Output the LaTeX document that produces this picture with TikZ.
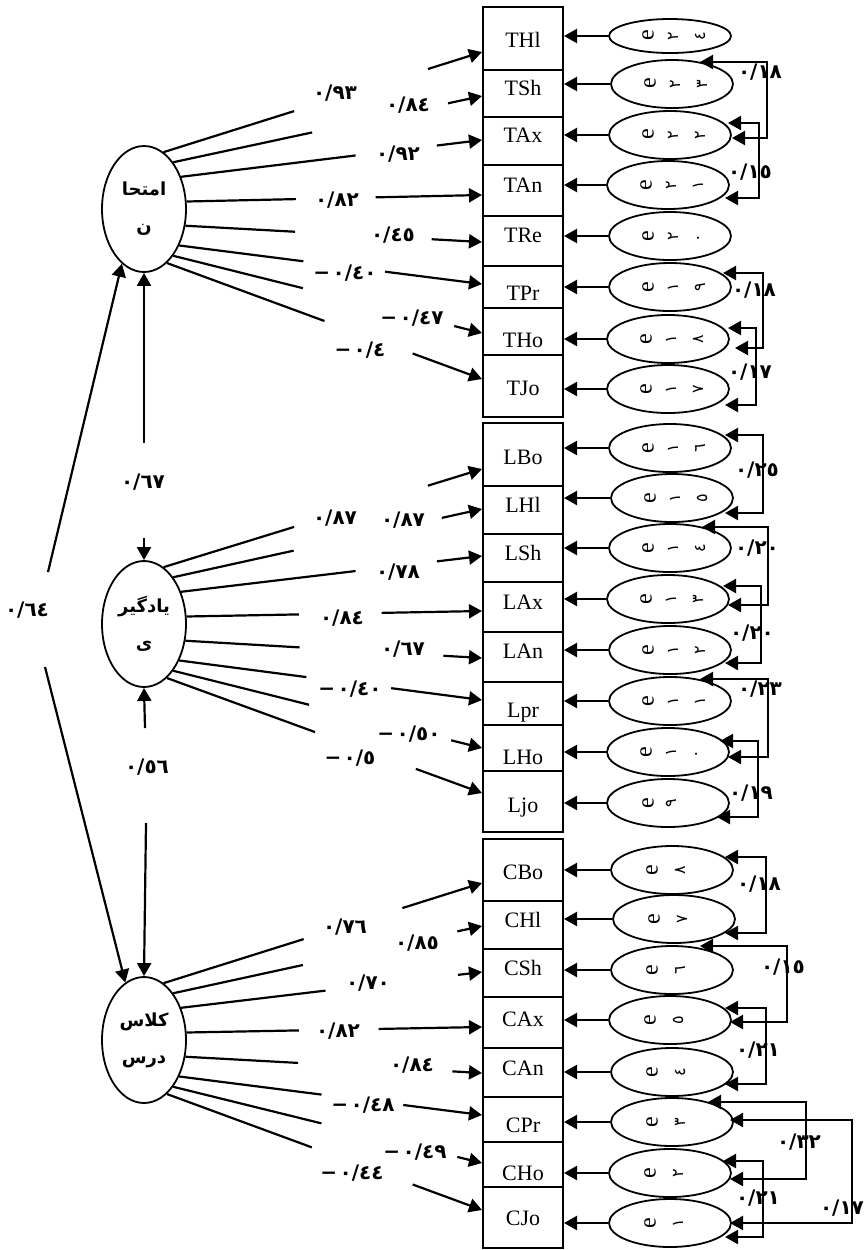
\documentclass[tikz,border=0pt]{standalone}
\usepackage{fontspec}
\usepackage{graphicx}
\setmainfont{Liberation Serif}
\newfontfamily\ar[Script=Arabic]{DejaVu Sans}
\TeXXeTstate=1
\usetikzlibrary{shapes.geometric,arrows.meta}

\newcommand\obsbox[5]{%
  \pgfmathsetmacro\bxh{(#3-#2)*0.5}%
  \pgfmathsetmacro\bxc{(#2+#3)/2}%
  \pgfmathsetmacro\bxo{(\bxc-#4)*0.5}%
  \node[obs, minimum height=\bxh pt] (#1) at (523,\bxc) {\raisebox{\bxo pt}[7.3pt][0pt]{#5}};}
\newcommand\erE{\makebox[0pt]{\rotatebox[origin=c]{90}{\fontsize{12}{12}\selectfont e}}}
\newcommand\erD[1]{\makebox[0pt]{\rotatebox[origin=c]{90}{\ar\fontsize{8}{8}\selectfont #1}}}
\newcommand\gat[2]{\rlap{\hspace{#1}#2}}
\newcommand\eglyphs[1]{\raisebox{-2.6pt}{\makebox[32pt][l]{#1}}}
\newcommand\ethree[2]{\eglyphs{\gat{5pt}{\erE}\gat{17.5pt}{\erD{#1}}\gat{31pt}{\erD{#2}}}}
\newcommand\etwoL[1]{\eglyphs{\gat{6pt}{\erE}\gat{17.5pt}{\erD{#1}}}}
\newcommand\etwoC[1]{\eglyphs{\gat{6pt}{\erE}\gat{20pt}{\erD{#1}}}}
\newcommand\ngv[1]{\mbox{−}\hspace{1.2pt}\mbox{#1}}
\newcommand\fan[6]{%
  \path (#1.#2) -- (#3.west |- 0,#4) coordinate[pos=#5] (ga) coordinate[pos=#6] (gb);
  \draw[ln] (#1.#2) -- (ga);
  \draw[arr] (gb) -- (#3.west |- 0,#4);}
\newcommand\covar[6]{%
  \coordinate (#1a) at (#2,#3); \coordinate (#1b) at (#5,#6);
  \draw[cov] (#1a) -| (#4,#6) -- (#1b);}

\begin{document}
\begin{tikzpicture}[x=0.5pt,y=-0.5pt,
 obs/.style={draw, line width=1pt, minimum width=40pt, inner sep=0pt, font=\fontsize{11}{13}\selectfont},
 err/.style={draw, ellipse, line width=0.9pt, minimum width=61pt, minimum height=24pt, inner sep=0pt, text height=0pt, text depth=0pt},
 lat/.style={draw, ellipse, line width=0.9pt, minimum width=42pt, minimum height=63pt, inner sep=0pt, align=center, font=\ar\bfseries\fontsize{9}{18.5}\selectfont},
 lbl/.style={inner sep=0pt, font=\ar\bfseries\fontsize{10}{12}\selectfont},
 ln/.style={line width=1.1pt},
 arr/.style={line width=1.1pt, -{Triangle[length=6.5pt,width=7pt]}},
 cov/.style={line width=1.1pt, {Triangle[length=6.5pt,width=7pt]}-{Triangle[length=6.5pt,width=7pt]}}]
\useasboundingbox (0,0) rectangle (864,1250);

% observed boxes
\obsbox{THl}{7}{70}{40}{THl}
\obsbox{TSh}{70}{117}{88}{TSh}
\obsbox{TAx}{117}{165}{135}{TAx}
\obsbox{TAn}{165}{216}{185}{TAn}
\obsbox{TRe}{216}{266}{235}{TRe}
\obsbox{TPr}{266}{308}{293}{TPr}
\obsbox{THo}{308}{355}{340}{THo}
\obsbox{TJo}{355}{417}{388}{TJo}
\obsbox{LBo}{423}{486}{457}{LBo}
\obsbox{LHl}{486}{534}{505}{LHl}
\obsbox{LSh}{534}{582}{553}{LSh}
\obsbox{LAx}{582}{632}{602}{LAx}
\obsbox{LAn}{632}{682}{651}{LAn}
\obsbox{Lpr}{682}{725}{710}{Lpr}
\obsbox{LHo}{725}{771}{757}{LHo}
\obsbox{Ljo}{771}{832}{805}{Ljo}
\obsbox{CBo}{839}{901}{872}{CBo}
\obsbox{CHl}{901}{949}{920}{CHl}
\obsbox{CSh}{949}{997}{968}{CSh}
\obsbox{CAx}{997}{1048}{1019}{CAx}
\obsbox{CAn}{1048}{1097}{1068}{CAn}
\obsbox{CPr}{1097}{1142}{1125}{CPr}
\obsbox{CHo}{1142}{1187}{1173}{CHo}
\obsbox{CJo}{1187}{1248}{1218}{CJo}

% error ellipses
\node[err, minimum height=17pt] (e24) at (670,36) {\ethree{٢}{٤}};
\node[err] (e23) at (672,84) {\ethree{٢}{٣}};
\node[err] (e22) at (670,135) {\ethree{٢}{٢}};
\node[err] (e21) at (668,185) {\ethree{٢}{١}};
\node[err] (e20) at (670,236) {\ethree{٢}{٠}};
\node[err] (e19) at (670,287) {\ethree{١}{٩}};
\node[err] (e18) at (668,339) {\ethree{١}{٨}};
\node[err] (e17) at (668,389) {\ethree{١}{٧}};
\node[err] (e16) at (670,448) {\ethree{١}{٦}};
\node[err] (e15) at (672,498) {\ethree{١}{٥}};
\node[err] (e14) at (670,548) {\ethree{١}{٤}};
\node[err] (e13) at (668,599) {\ethree{١}{٣}};
\node[err] (e12) at (670,650) {\ethree{١}{٢}};
\node[err] (e11) at (670,701) {\ethree{١}{١}};
\node[err] (e10) at (668,752) {\ethree{١}{٠}};
\node[err] (e9) at (668,803) {\etwoL{٩}};
\node[err] (e8) at (672,870) {\etwoC{٨}};
\node[err] (e7) at (674,919) {\etwoC{٧}};
\node[err] (e6) at (672,970) {\etwoC{٦}};
\node[err] (e5) at (670,1020) {\etwoC{٥}};
\node[err] (e4) at (672,1072) {\etwoC{٤}};
\node[err] (e3) at (672,1122) {\etwoC{٣}};
\node[err] (e2) at (670,1173) {\etwoC{٢}};
\node[err] (e1) at (670,1223) {\etwoC{١}};

% error -> indicator arrows
\foreach \e/\b in {e24/THl,e23/TSh,e22/TAx,e21/TAn,e20/TRe,e19/TPr,e18/THo,e17/TJo,
                   e16/LBo,e15/LHl,e14/LSh,e13/LAx,e12/LAn,e11/Lpr,e10/LHo,e9/Ljo,
                   e8/CBo,e7/CHl,e6/CSh,e5/CAx,e4/CAn,e3/CPr,e2/CHo,e1/CJo}
  \draw[arr] (\e.west) -- (\b.east |- \e.west);

% latent variables
\node[lat] (L1) at (144,209) {\beginR امتحا\endR\\\beginR ن\endR};
\node[lat] (L2) at (144,624) {\beginR یادگیر\endR\\\beginR ی\endR};
\node[lat] (L3) at (144,1040) {\beginR کلاس\endR\\\beginR درس\endR};

% fan loadings
\fan{L1}{71}{THl}{52}{0.41}{0.83}
\fan{L1}{58}{TSh}{96}{0.45}{0.89}
\fan{L1}{41}{TAx}{140}{0.58}{0.85}
\fan{L1}{10}{TAn}{195}{0.37}{0.64}
\fan{L1}{338}{TRe}{242}{0.37}{0.83}
\fan{L1}{314}{TPr}{284}{0.41}{0.68}
\fan{L1}{302}{THo}{333}{0.42}{0.91}
\fan{L1}{293}{TJo}{379}{0.50}{0.78}
\fan{L2}{71}{LBo}{469}{0.41}{0.83}
\fan{L2}{58}{LHl}{509}{0.39}{0.87}
\fan{L2}{41}{LSh}{556}{0.58}{0.85}
\fan{L2}{10}{LAx}{611}{0.38}{0.66}
\fan{L2}{338}{LAn}{658}{0.385}{0.87}
\fan{L2}{314}{Lpr}{700}{0.42}{0.70}
\fan{L2}{302}{LHo}{748}{0.44}{0.90}
\fan{L2}{293}{Ljo}{793}{0.47}{0.79}
\fan{L3}{71}{CBo}{883}{0.44}{0.75}
\fan{L3}{58}{CHl}{926}{0.42}{0.92}
\fan{L3}{41}{CSh}{972}{0.48}{0.92}
\fan{L3}{10}{CAx}{1027}{0.38}{0.65}
\fan{L3}{338}{CAn}{1073}{0.38}{0.90}
\fan{L3}{314}{CPr}{1115}{0.47}{0.74}
\fan{L3}{302}{CHo}{1163}{0.48}{0.92}
\fan{L3}{293}{CJo}{1210}{0.46}{0.78}

% latent correlations
\coordinate (v1) at (144,443); \draw[arr] (v1) -- (L1.south);
\coordinate (v2) at (144,538); \draw[arr] (v2) -- (L2.north);
\coordinate (v3) at (145,728); \draw[arr] (v3) -- (L2.south);
\coordinate (v4) at (146,823); \draw[arr] (v4) -- (L3.north);
\coordinate (d1) at (48,572); \draw[arr] (d1) -- (L1.248);
\coordinate (d2) at (45,667); \draw[arr] (d2) -- (L3.108);

% loading labels
\node[lbl] (k1) at (335,93) {٠/٩٣};
\node[lbl] (k2) at (408,105) {٠/٨٤};
\node[lbl] (k3) at (398,154) {٠/٩٢};
\node[lbl] (k4) at (337,200) {٠/٨٢};
\node[lbl] (k5) at (393,235) {٠/٤٥};
\node[lbl] (k6) at (345,273) {\ngv{٠/٤٠}};
\node[lbl] (k7) at (412,318) {\ngv{٠/٤٧}};
\node[lbl] (k8) at (360,350) {\ngv{٠/٤}};
\node[lbl] (k9) at (143,482) {٠/٦٧};
\node[lbl] (k10) at (147,767) {٠/٥٦};
\node[lbl] (k11) at (27,610) {٠/٦٤};
\node[lbl] (k12) at (335,518) {٠/٨٧};
\node[lbl] (k13) at (403,520) {٠/٨٧};
\node[lbl] (k14) at (398,572) {٠/٧٨};
\node[lbl] (k15) at (342,618) {٠/٨٤};
\node[lbl] (k16) at (403,649) {٠/٦٧};
\node[lbl] (k17) at (350,689) {\ngv{٠/٤٠}};
\node[lbl] (k18) at (409,734) {\ngv{٠/٥٠}};
\node[lbl] (k19) at (350,758) {\ngv{٠/٥}};
\node[lbl] (k20) at (345,927) {٠/٧٦};
\node[lbl] (k21) at (417,943) {٠/٨٥};
\node[lbl] (k22) at (368,983) {٠/٧٠};
\node[lbl] (k23) at (338,1031) {٠/٨٢};
\node[lbl] (k24) at (412,1065) {٠/٨٤};
\node[lbl] (k25) at (363,1105) {\ngv{٠/٤٨}};
\node[lbl] (k26) at (415,1152) {\ngv{٠/٤٩}};
\node[lbl] (k27) at (352,1173) {\ngv{٠/٤٤}};

% error covariances
\covar{cA}{700}{62}{767}{732}{138}
\covar{cB}{728}{123}{759}{725}{198}
\covar{cC}{723}{273}{763}{735}{348}
\covar{cD}{728}{328}{756}{725}{405}
\covar{cE}{725}{435}{763}{725}{513}
\covar{cF}{702}{527}{768}{728}{605}
\covar{cG}{723}{586}{761}{725}{663}
\covar{cH}{700}{679}{768}{728}{757}
\covar{cI}{720}{741}{758}{717}{817}
\covar{cJ}{725}{857}{766}{725}{933}
\covar{cK}{700}{946}{787}{730}{1022}
\covar{cL}{725}{1008}{766}{725}{1084}
\covar{cM}{708}{1102}{806}{730}{1179}
\covar{cN}{730}{1120}{852}{730}{1223}
\covar{cO}{723}{1161}{763}{725}{1237}

\node[lbl] (m1) at (760,72) {٠/١٨};
\node[lbl] (m2) at (750,172) {٠/١٥};
\node[lbl] (m3) at (754,290) {٠/١٨};
\node[lbl] (m4) at (750,372) {٠/١٧};
\node[lbl] (m5) at (757,470) {٠/٢٥};
\node[lbl] (m6) at (757,548) {٠/٢٠};
\node[lbl] (m7) at (752,633) {٠/٢٠};
\node[lbl] (m8) at (760,689) {٠/٢٣};
\node[lbl] (m9) at (751,793) {٠/١٩};
\node[lbl] (m10) at (759,884) {٠/١٨};
\node[lbl] (m11) at (783,967) {٠/١٥};
\node[lbl] (m12) at (758,1050) {٠/٢١};
\node[lbl] (m13) at (799,1142) {٠/٣٢};
\node[lbl] (m14) at (842,1208) {٠/١٧};
\node[lbl] (m15) at (758,1198) {٠/٢١};
\end{tikzpicture}
\end{document}
